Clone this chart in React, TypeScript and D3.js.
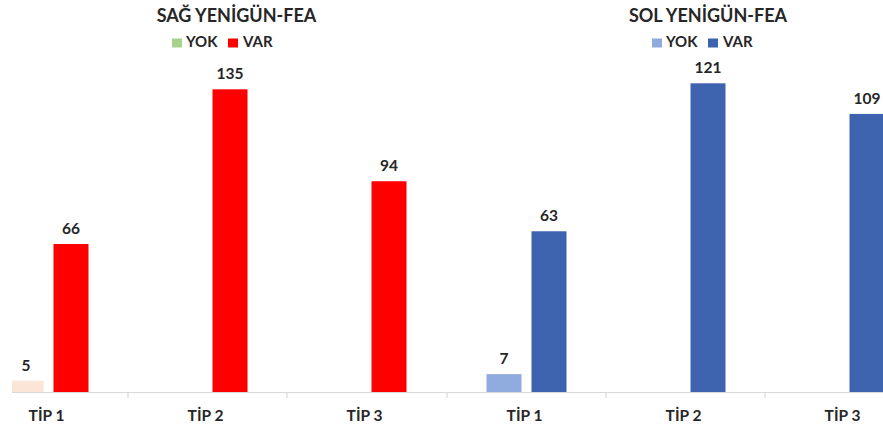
import React from "react";
import * as d3 from "d3";

const categories = ["TİP 1", "TİP 2", "TİP 3"];
const seriesNames = ["YOK", "VAR"];
const sagYok: (number | null)[] = [5, null, null];
const sagVar: (number | null)[] = [66, 135, 94];
const solYok: (number | null)[] = [7, null, null];
const solVar: (number | null)[] = [63, 121, 109];

const W = 883;
const H = 432;
const FONT = "Lato, 'Open Sans', sans-serif";
const TXT = "#262626";

type PanelProps = {
  title: string;
  yok: (number | null)[];
  vr: (number | null)[];
  range: [number, number];
  clipLeft: number;
  yMax: number;
  yTop: number;
  barColors: [string, string];
  legendColors: [string, string];
  titleX: number;
  legendX: number;
  id: string;
};

function Panel(p: PanelProps) {
  const baseY = 392;
  const x = d3.scaleBand<string>().domain(categories).range(p.range).padding(0);
  const inner = d3.scaleBand<string>().domain(seriesNames).range([-40, 40]).paddingInner(10 / 45).paddingOuter(0);
  const y = d3.scaleLinear().domain([0, p.yMax]).range([baseY, p.yTop]);
  const series = [p.yok, p.vr];
  const step = x.step();
  const boundaries = d3.range(0, categories.length).map((i) => p.range[0] + i * step).concat([p.range[1]]);
  return (
    <g>
      <defs>
        <clipPath id={p.id}>
          <rect x={p.clipLeft} y={0} width={W - p.clipLeft} height={H} />
        </clipPath>
      </defs>
      <g clipPath={`url(#${p.id})`}>
        <line x1={Math.max(p.range[0], p.clipLeft)} x2={p.range[1]} y1={baseY + 0.5} y2={baseY + 0.5} stroke="#D9D9D9" strokeWidth={1.2} />
        {boundaries
          .filter((b) => b > p.clipLeft + 2 && b < p.range[1] - 2)
          .map((b, i) => (
            <line key={i} x1={b} x2={b} y1={baseY} y2={baseY + 6} stroke="#D9D9D9" strokeWidth={1.2} />
          ))}
        {series.map((vals, si) =>
          vals.map((v, ci) => {
            if (v == null) return null;
            const cx = (x(categories[ci]) as number) + x.bandwidth() / 2;
            const bx = cx + (inner(seriesNames[si]) as number);
            return (
              <g key={`${si}-${ci}`}>
                <rect x={bx} y={y(v)} width={inner.bandwidth()} height={baseY - y(v)} fill={p.barColors[si]} />
                <text x={bx + inner.bandwidth() / 2} y={y(v) - 10} textAnchor="middle" fontFamily={FONT} fontWeight={700} fontSize={15.5} fill={TXT}>
                  {v}
                </text>
              </g>
            );
          })
        )}
        {categories.map((c) => (
          <text key={c} x={(x(c) as number) + x.bandwidth() / 2 - 2} y={421} textAnchor="middle" fontFamily={FONT} fontWeight={700} fontSize={15.5} fill={TXT}>
            {c}
          </text>
        ))}
      </g>
      <text x={p.titleX} y={22} textAnchor="middle" fontFamily={FONT} fontWeight={700} fontSize={18} fill={TXT}>
        {p.title}
      </text>
      <g transform={`translate(${p.legendX},0)`}>
        <rect x={0} y={38.5} width={10} height={9} fill={p.legendColors[0]} />
        <text x={14} y={47} fontFamily={FONT} fontWeight={700} fontSize={15} fill={TXT}>YOK</text>
        <rect x={56} y={38.5} width={10} height={9} fill={p.legendColors[1]} />
        <text x={71} y={47} fontFamily={FONT} fontWeight={700} fontSize={15} fill={TXT}>VAR</text>
      </g>
    </g>
  );
}

export default function App() {
  return (
    <svg width={W} height={H} style={{ position: "absolute", left: 0, top: 0, background: "#fff" }}>
      <rect x={0} y={0} width={W} height={H} fill="#fff" />
      <Panel
        id="clipL"
        title="SAĞ YENİGÜN-FEA"
        yok={sagYok}
        vr={sagVar}
        range={[-31, 446]}
        clipLeft={12}
        yMax={135}
        yTop={89.3}
        barColors={["#FBE5D6", "#FF0000"]}
        legendColors={["#A9D18E", "#FF0000"]}
        titleX={236.5}
        legendX={172}
      />
      <Panel
        id="clipR"
        title="SOL YENİGÜN-FEA"
        yok={solYok}
        vr={solVar}
        range={[447, 924]}
        clipLeft={440}
        yMax={121}
        yTop={83.3}
        barColors={["#8FAADC", "#3D62AE"]}
        legendColors={["#8FAADC", "#3D62AE"]}
        titleX={708}
        legendX={652}
      />
    </svg>
  );
}
